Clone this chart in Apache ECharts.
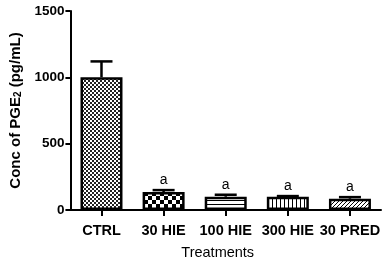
<!DOCTYPE html>
<html><head><meta charset="utf-8">
<script src="https://cdn.jsdelivr.net/npm/echarts@6/dist/echarts.min.js"></script>
<style>html,body{margin:0;padding:0;background:#fff}#c{width:389px;height:265px}</style>
</head><body><div id="c"></div>
<script>
const categories = ['CTRL', '30 HIE', '100 HIE', '300 HIE', '30 PRED'];
const means = [1000, 135, 100, 100, 85];
const errors = [120, 15, 15, 5, 12];
const sigLabels = ['', 'a', 'a', 'a', 'a'];
const yTicks = [0, 500, 1000, 1500];
const patterns = ['fineChecker', 'checker', 'hstripe', 'vstripe', 'diag'];

function makePattern(type) {
  const c = document.createElement('canvas');
  const ctx = c.getContext('2d');
  if (type === 'fineChecker') {
    c.width = 4; c.height = 4;
    ctx.fillStyle = '#fff'; ctx.fillRect(0, 0, 4, 4);
    ctx.fillStyle = '#222'; ctx.fillRect(0, 0, 2, 2); ctx.fillRect(2, 2, 2, 2);
  } else if (type === 'checker') {
    c.width = 8; c.height = 8;
    ctx.fillStyle = '#fff'; ctx.fillRect(0, 0, 8, 8);
    ctx.fillStyle = '#000'; ctx.fillRect(0, 0, 4, 4); ctx.fillRect(4, 4, 4, 4);
  } else if (type === 'hstripe') {
    c.width = 4; c.height = 4;
    ctx.fillStyle = '#fff'; ctx.fillRect(0, 0, 4, 4);
    ctx.fillStyle = '#000'; ctx.fillRect(0, 0, 4, 1);
  } else if (type === 'vstripe') {
    c.width = 4; c.height = 4;
    ctx.fillStyle = '#fff'; ctx.fillRect(0, 0, 4, 4);
    ctx.fillStyle = '#000'; ctx.fillRect(0, 0, 1, 4);
  } else {
    c.width = 4; c.height = 4;
    ctx.fillStyle = '#fff'; ctx.fillRect(0, 0, 4, 4);
    ctx.strokeStyle = '#000'; ctx.lineWidth = 1;
    ctx.beginPath();
    ctx.moveTo(0, 4); ctx.lineTo(4, 0);
    ctx.moveTo(-1, 1); ctx.lineTo(1, -1);
    ctx.moveTo(3, 5); ctx.lineTo(5, 3);
    ctx.stroke();
  }
  return c;
}

const chart = echarts.init(document.getElementById('c'));
const font = 'Liberation Sans';

chart.setOption({
  animation: false,
  backgroundColor: '#fff',
  grid: { left: 70, right: 8, top: 11, bottom: 49 },
  xAxis: {
    type: 'category',
    data: categories,
    name: 'Treatments',
    nameLocation: 'middle',
    nameGap: 35,
    nameTextStyle: { fontFamily: font, fontSize: 14.5, color: '#000', padding: [0, 16, 0, 0] },
    axisLine: { lineStyle: { color: '#000', width: 2 } },
    axisTick: { show: true, alignWithLabel: true, length: 6, lineStyle: { color: '#000', width: 2 } },
    axisLabel: { interval: 0, hideOverlap: false, fontFamily: font, fontSize: 14.5, fontWeight: 'bold', color: '#000', margin: 13 }
  },
  yAxis: {
    type: 'value',
    min: yTicks[0], max: yTicks[yTicks.length - 1], interval: 500,
    name: 'Conc of PGE{sub|2} (pg/mL)',
    nameLocation: 'middle',
    nameGap: 46,
    nameTextStyle: {
      fontFamily: font, fontSize: 15, fontWeight: 'bold', color: '#000',
      rich: { sub: { fontFamily: font, fontSize: 10, fontWeight: 'bold', color: '#000', verticalAlign: 'bottom', padding: [6, 0, 0, 0] } }
    },
    axisLine: { show: true, lineStyle: { color: '#000', width: 2 } },
    axisTick: { show: true, length: 5, lineStyle: { color: '#000', width: 2 } },
    axisLabel: { formatter: v => String(v), fontFamily: font, fontSize: 13.5, fontWeight: 'bold', color: '#000', margin: 6 },
    splitLine: { show: false }
  },
  series: [
    {
      type: 'bar',
      barWidth: 42,
      data: means.map((v, i) => ({
        value: v,
        itemStyle: {
          color: { image: makePattern(patterns[i]), repeat: 'repeat' },
          borderColor: '#000', borderWidth: 2.5
        }
      }))
    },
    {
      type: 'custom',
      z: 5,
      data: means.map((v, i) => [i, v, errors[i]]),
      renderItem: function (params, api) {
        const i = api.value(0);
        const base = api.coord([i, api.value(1)]);
        const top = api.coord([i, api.value(1) + api.value(2)]);
        const half = 11;
        const children = [
          { type: 'line', shape: { x1: base[0], y1: base[1], x2: top[0], y2: top[1] }, style: { stroke: '#000', lineWidth: 2.5 } },
          { type: 'line', shape: { x1: top[0] - half, y1: top[1], x2: top[0] + half, y2: top[1] }, style: { stroke: '#000', lineWidth: 2.5 } }
        ];
        if (sigLabels[i]) {
          children.push({ type: 'text', style: { text: sigLabels[i], x: top[0], y: top[1] - 3, align: 'center', verticalAlign: 'bottom', fontFamily: font, fontSize: 14, fill: '#000' } });
        }
        return { type: 'group', children: children };
      }
    }
  ]
});
</script></body></html>
